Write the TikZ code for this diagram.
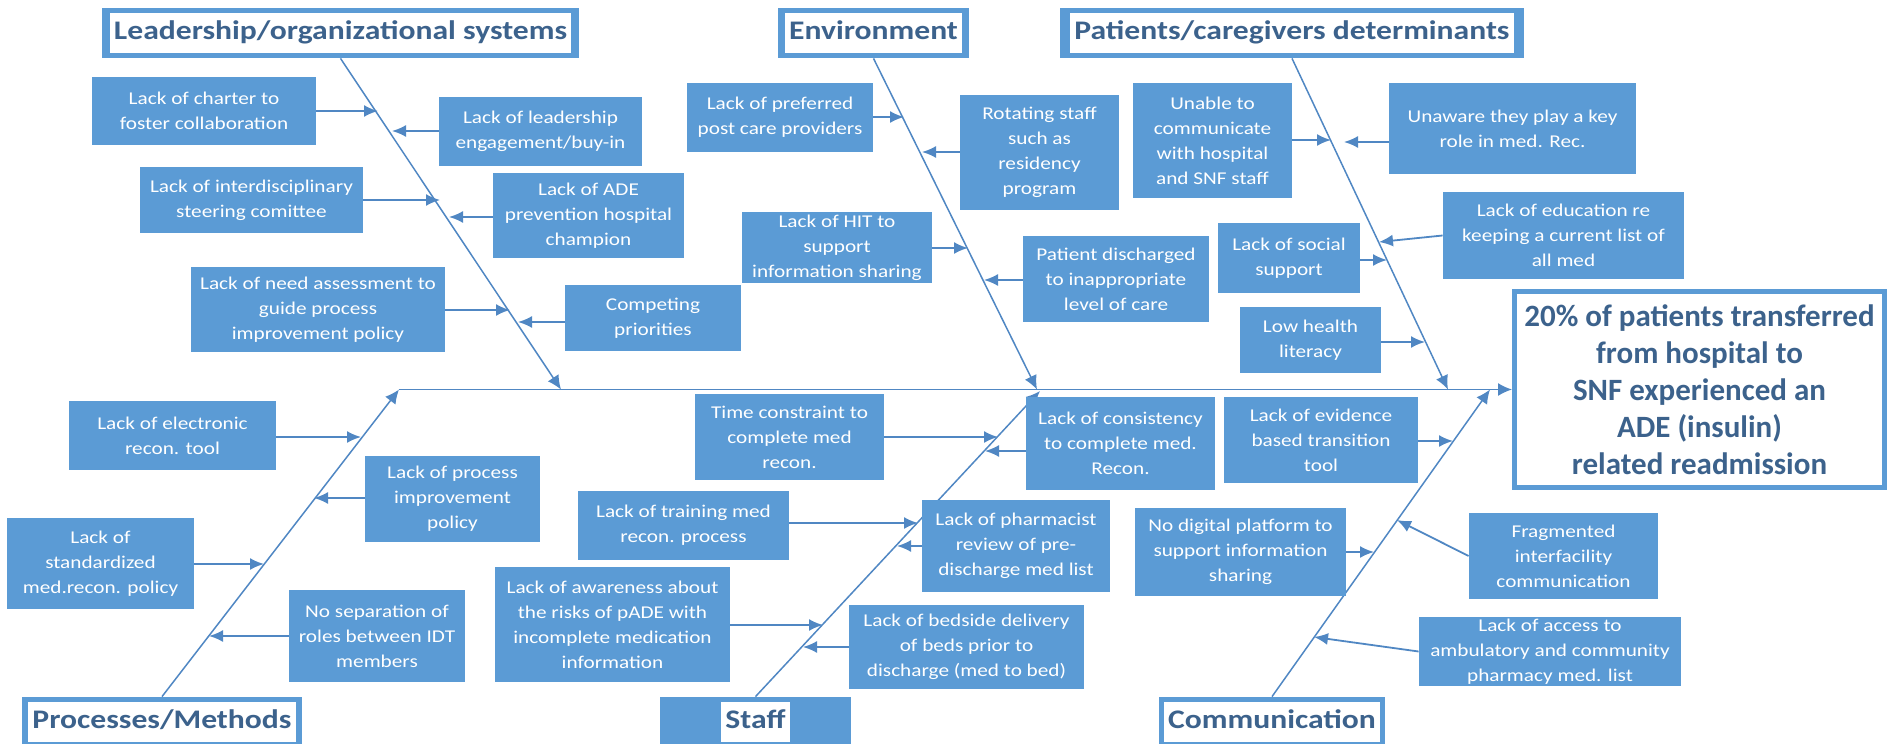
\documentclass[tikz,border=0pt]{standalone}
\usepackage{fontspec}
\setmainfont{Carlito}[FakeStretch=1.18]
\newfontfamily\effectfont{Carlito}
\usepackage{xcolor}
\usepackage{tikz}
\usetikzlibrary{arrows.meta}
\usetikzlibrary{positioning}
\definecolor{boxblue}{RGB}{91,155,213}
\definecolor{boneblue}{RGB}{80,135,195}
\definecolor{headtext}{RGB}{60,98,140}
\tikzstyle{cause}=[rectangle,fill=boxblue,text=white,align=center,inner sep=0pt,font=\fontsize{9}{12.5}\selectfont]
\tikzstyle{headbox}=[rectangle,fill=boxblue,inner sep=2.5pt,minimum height=25pt,text=headtext,font=\bfseries\fontsize{13.4}{16}\selectfont]
\tikzstyle{effectbox}=[rectangle,draw=boxblue,line width=2.5pt,fill=white,align=center,text=headtext,font=\effectfont\bfseries\fontsize{15.5}{18.5}\selectfont]
\tikzstyle{bone} = [draw=boneblue,line width=0.75pt,-{Latex[length=7pt,width=6.5pt]}]
\tikzstyle{causearrow} = [draw=boneblue,line width=0.9pt,-{Latex[length=7pt,width=6pt]}]
\setlength{\fboxsep}{2pt}
\newcommand{\headlabel}[1]{\colorbox{white}{\strut #1}}

\begin{document}
\begin{tikzpicture}[x=0.5pt,y=-0.5pt]

  \def\u{0.5pt}
  \useasboundingbox (0,0) rectangle (1891,744);

  \foreach \x/\y/\w/\name/\label in {340.5/33/477/lead/{Leadership/organizational systems}, 873.5/33/191/env/Environment, 1292/33/464/pat/{Patients/caregivers determinants}}
          \node[headbox,minimum width=\w*\u] (\name) at (\x,\y) {\headlabel{\label}};

  \foreach \x/\y/\w/\name/\label in {162/722/280/proc/{Processes/Methods}, 755.5/722/191/staff/Staff, 1272/722/226/comm/Communication}
          \node[headbox,minimum width=\w*\u] (\name) at (\x,\y) {\headlabel{\label}};

  \node[effectbox,minimum width=370*\u,minimum height=196*\u] (effect) at (1699.5,389.5)
        {20\% of patients transferred\\from hospital to\\SNF experienced an\\ADE (insulin)\\related readmission};

  \coordinate (spinestart) at (399,389.5);
  \coordinate (leadtip) at (561,389.5);
  \coordinate (envtip) at (1037,389.5);
  \coordinate (pattip) at (1448,389.5);
  \coordinate (stafftip) at (1040,391);
  \coordinate (commtip) at (1490,389.5);

  \draw[bone] (spinestart) -- (effect.west);
  \foreach \source/\dest in {lead.south/leadtip, env.south/envtip, pat.south/pattip, proc.north/spinestart, staff.north/stafftip, comm.north/commtip}
         \draw[bone] (\source) -- (\dest);



  \foreach \x/\y/\w/\h/\name/\label in {204/111/224/68/charter/{Lack of charter to\\foster collaboration}, 540.5/131.5/203/69/engage/{Lack of leadership\\engagement/buy-in}, 251.5/200/223/66/interdisc/{Lack of interdisciplinary\\steering comittee}, 588.5/215.5/191/85/adechamp/{Lack of ADE\\prevention hospital\\champion}, 318/309.5/254/85/needassess/{Lack of need assessment to\\guide process\\improvement policy}, 653/318/176/66/competing/{Competing\\priorities}}
          \node[cause,minimum width=\w*\u,minimum height=\h*\u] (\name) at (\x,\y) {\label};

  \foreach \x/\y/\w/\h/\name/\label in {780/117.5/186/69/preferred/{Lack of preferred\\post care providers}, 1039.5/152.5/159/115/rotating/{Rotating staff\\such as\\residency\\program}, 837/247.5/190/71/hit/{Lack of HIT to\\support\\information sharing}, 1116/279/186/86/discharged/{Patient discharged\\to inappropriate\\level of care}}
          \node[cause,minimum width=\w*\u,minimum height=\h*\u] (\name) at (\x,\y) {\label};

  \foreach \x/\y/\w/\h/\name/\label in {1212.5/140.5/159/115/unable/{Unable to\\communicate\\with hospital\\and SNF staff}, 1512.5/128.5/247/91/unaware/{Unaware they play a key\\role in med. Rec.}, 1563.5/235.5/241/87/education/{Lack of education re\\keeping a current list of\\all med}, 1289/258/142/70/social/{Lack of social\\support}, 1310.5/340/141/66/literacy/{Low health\\literacy}}
          \node[cause,minimum width=\w*\u,minimum height=\h*\u] (\name) at (\x,\y) {\label};

  \foreach \x/\y/\w/\h/\name/\label in {172.5/435.5/207/69/electronic/{Lack of electronic\\recon. tool}, 452.5/499/175/86/procimpr/{Lack of process\\improvement\\policy}, 100.5/563.5/187/91/standard/{Lack of\\standardized\\med.recon. policy}, 377/636/176/92/separation/{No separation of\\roles between IDT\\members}}
          \node[cause,minimum width=\w*\u,minimum height=\h*\u] (\name) at (\x,\y) {\label};

  \foreach \x/\y/\w/\h/\name/\label in {789.5/437/189/86/timecons/{Time constraint to\\complete med\\recon.}, 1120.5/443.5/189/93/consistency/{Lack of consistency\\to complete med.\\Recon.}, 683.5/525.5/211/69/training/{Lack of training med\\recon. process}, 1016/546/188/92/pharmacist/{Lack of pharmacist\\review of pre-\\discharge med list}, 612.5/624.5/235/115/awareness/{Lack of awareness about\\the risks of pADE with\\incomplete medication\\information}, 966.5/647/235/84/bedside/{Lack of bedside delivery\\of beds prior to\\discharge (med to bed)}}
          \node[cause,minimum width=\w*\u,minimum height=\h*\u] (\name) at (\x,\y) {\label};

  \foreach \x/\y/\w/\h/\name/\label in {1321/440/194/86/evidence/{Lack of evidence\\based transition\\tool}, 1240.5/552/211/88/digital/{No digital platform to\\support information\\sharing}, 1563.5/556/189/86/fragmented/{Fragmented\\interfacility\\communication}, 1550/651.5/262/69/access/{Lack of access to\\ambulatory and community\\pharmacy med. list}}
          \node[cause,minimum width=\w*\u,minimum height=\h*\u] (\name) at (\x,\y) {\label};



  \foreach \name/\tx/\ty in {charter/378/111, interdisc/440/200, needassess/510/310, preferred/904/117, hit/968/248, unable/1331/140, social/1387/260, literacy/1425/342, electronic/361/437, standard/264/564, timecons/998/437, training/918/523, awareness/823/625, evidence/1453/441, digital/1374/552}
         {\coordinate (t-\name) at (\tx,\ty);
          \draw[causearrow] (\name.east |- t-\name) -- (t-\name);}

  \foreach \name/\tx/\ty in {engage/392/131, adechamp/449/217, competing/518/322, rotating/922/152, discharged/984/280, unaware/1344/142, procimpr/314/498, separation/209/636, consistency/985/451, pharmacist/897/546, bedside/803/647}
         {\coordinate (t-\name) at (\tx,\ty);
          \draw[causearrow] (\name.west |- t-\name) -- (t-\name);}

  \foreach \name/\tx/\ty in {education/1379/242, fragmented/1397/520, access/1314/637}
         {\coordinate (t-\name) at (\tx,\ty);
          \draw[causearrow] (\name.west) -- (t-\name);}

\end{tikzpicture}
\end{document}
